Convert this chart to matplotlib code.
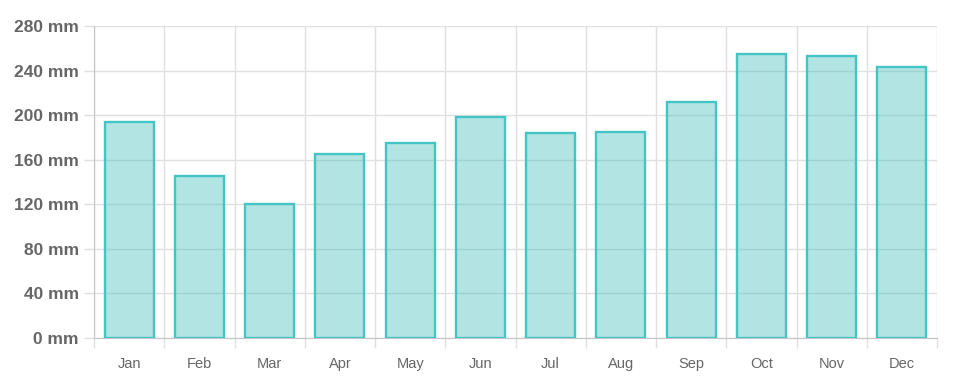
import matplotlib
matplotlib.use('Agg')
import matplotlib.pyplot as plt
import numpy as np

plt.rcParams['font.family'] = ['Liberation Sans', 'DejaVu Sans']

# Monthly rainfall (mm)
months = ['Jan', 'Feb', 'Mar', 'Apr', 'May', 'Jun', 'Jul', 'Aug', 'Sep', 'Oct', 'Nov', 'Dec']
rainfall = [194, 145, 120, 165, 175, 198, 184, 185, 212, 255, 253, 243]
y_ticks = [0, 40, 80, 120, 160, 200, 240, 280]

GRID = '#e0e0e0'
AXIS = '#c4c4c4'
TEXT = '#666666'

fig = plt.figure(figsize=(9.68, 3.87), dpi=100)
ax = fig.add_axes([94 / 968, 1 - 338 / 387, (937 - 94) / 968, (338 - 26) / 387])

x = np.arange(len(months))
ax.bar(x, rainfall, width=0.7, facecolor=(75 / 255, 192 / 255, 192 / 255, 0.42),
       edgecolor='#45c4c6', linewidth=1.7, zorder=3)

ax.set_xlim(-0.5, len(months) - 0.5)
ax.set_ylim(0, 280)

# x axis: labels centred, grid lines between categories
ax.set_xticks(x)
ax.set_xticklabels(months, fontsize=10.5, color=TEXT)
ax.set_xticks(np.arange(len(months) + 1) - 0.5, minor=True)
ax.tick_params(axis='x', which='major', length=0, pad=14)
ax.tick_params(axis='x', which='minor', length=7, color=GRID, width=1)
ax.grid(True, axis='x', which='minor', color=GRID, linewidth=1, zorder=0)

# y axis
ax.set_yticks(y_ticks)
ax.set_yticklabels([f'{v} mm' for v in y_ticks], fontsize=12.5, fontweight='bold', color=TEXT)
ax.tick_params(axis='y', length=7, color=GRID, width=1, pad=4)
ax.grid(True, axis='y', color=GRID, linewidth=1, zorder=0)

for side in ['top', 'right']:
    ax.spines[side].set_visible(False)
ax.spines['left'].set_color(AXIS)
ax.spines['bottom'].set_color(AXIS)

fig.savefig('out.png', dpi=100)
